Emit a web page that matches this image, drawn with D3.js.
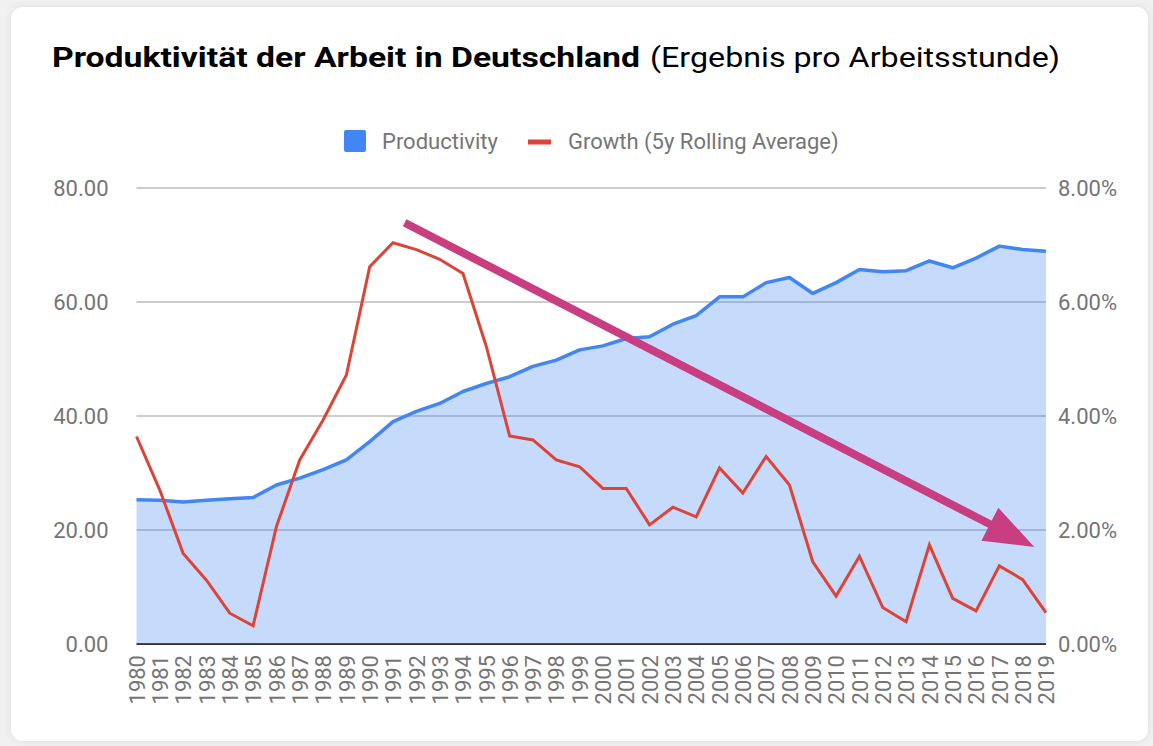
<!DOCTYPE html>
<html>
<head>
<meta charset="utf-8">
<script src="https://cdn.jsdelivr.net/npm/d3@7"></script>
<style>
  body { margin: 0; background: #f1f1f1; }
  svg { display: block; }
  .tick text { fill: #757575; font-family: Roboto, sans-serif; }
</style>
</head>
<body>
<div id="chart"></div>
<script>
// chart data
let years = d3.range(1980, 2020);
let productivity = [
    25.3, 25.2, 24.9, 25.2, 25.5, 25.7, 27.9, 29.1, 30.6, 32.3,
    35.5, 39.0, 40.8, 42.2, 44.3, 45.7, 46.9, 48.7, 49.8, 51.6,
    52.3, 53.6, 53.9, 56.1, 57.6, 60.9, 60.9, 63.4, 64.3, 61.5,
    63.4, 65.7, 65.3, 65.5, 67.2, 66.0, 67.7, 69.8, 69.2, 68.9
];
let growth = [
    3.64, 2.70, 1.59, 1.12, 0.54, 0.32, 2.06, 3.23, 3.93, 4.72,
    6.62, 7.04, 6.92, 6.75, 6.50, 5.22, 3.65, 3.58, 3.23, 3.11,
    2.73, 2.73, 2.09, 2.40, 2.23, 3.09, 2.65, 3.29, 2.79, 1.44,
    0.84, 1.54, 0.64, 0.39, 1.74, 0.80, 0.58, 1.37, 1.13, 0.55
];
let leftTicks = [0, 20, 40, 60, 80];
let rightTicks = [0, 2, 4, 6, 8];
let seriesNames = ['Productivity', 'Growth (5y Rolling Average)'];
// trend arrow drawn over the chart (year, left-axis value)
let arrowFrom = [1991.5, 73.9];
let arrowTo = [2018.5, 17.0];

let svgWidth = 1153;
let svgHeight = 746;

let margin = { top: 188, left: 136.5, right: 107, bottom: 102 };
let width = svgWidth - margin.left - margin.right;
let height = svgHeight - margin.top - margin.bottom;

let svg = d3.select('#chart')
    .append('svg')
    .attr('width', svgWidth)
    .attr('height', svgHeight);

// card with soft shadow
let defs = svg.append('defs');
let shadow = defs.append('filter').attr('id', 'shadow')
    .attr('x', '-5%').attr('y', '-5%').attr('width', '110%').attr('height', '110%');
shadow.append('feDropShadow')
    .attr('dx', 0).attr('dy', 0).attr('stdDeviation', 4)
    .attr('flood-color', '#000').attr('flood-opacity', 0.08);
svg.append('rect')
    .attr('x', 11).attr('y', 7)
    .attr('width', 1137).attr('height', 734)
    .attr('rx', 12)
    .attr('fill', '#ffffff')
    .attr('filter', 'url(#shadow)');

// title
svg.append('text')
    .attr('x', 52).attr('y', 67)
    .attr('font-family', 'Roboto, sans-serif')
    .attr('font-weight', 700)
    .attr('font-size', 27)
    .attr('fill', '#000')
    .attr('textLength', 588)
    .attr('lengthAdjust', 'spacingAndGlyphs')
    .text('Produktivität der Arbeit in Deutschland');
svg.append('text')
    .attr('x', 650).attr('y', 67)
    .attr('font-family', 'Roboto, sans-serif')
    .attr('font-weight', 400)
    .attr('font-size', 27)
    .attr('fill', '#000')
    .attr('textLength', 410)
    .attr('lengthAdjust', 'spacingAndGlyphs')
    .text('(Ergebnis pro Arbeitsstunde)');

// legend
let legend = svg.append('g').attr('font-family', 'Roboto, sans-serif').attr('font-size', 22).attr('fill', '#757575');
legend.append('rect')
    .attr('x', 344).attr('y', 130).attr('width', 22).attr('height', 22).attr('rx', 2)
    .attr('fill', '#4285f4');
legend.append('text').attr('x', 382).attr('y', 149).text(seriesNames[0]);
legend.append('rect')
    .attr('x', 528).attr('y', 139.5).attr('width', 23).attr('height', 5)
    .attr('fill', '#db4437');
legend.append('text').attr('x', 568).attr('y', 149).text(seriesNames[1]);

let chartGroup = svg.append('g')
    .attr('transform', `translate(${margin.left}, ${margin.top})`);

// scales
let xScale = d3.scaleLinear().domain([1980, 2019]).range([0, width]);
let yLeft = d3.scaleLinear().domain([0, 80]).range([height, 0]);
let yRight = d3.scaleLinear().domain([0, 8]).range([height, 0]);

// gridlines
chartGroup.append('g')
    .selectAll('line')
    .data(leftTicks.filter(d => d > 0))
    .enter()
    .append('line')
    .attr('x1', 0).attr('x2', width)
    .attr('y1', d => yLeft(d)).attr('y2', d => yLeft(d))
    .attr('stroke', '#cccccc')
    .attr('stroke-width', 2);
chartGroup.append('line')
    .attr('x1', 0).attr('x2', width)
    .attr('y1', height).attr('y2', height)
    .attr('stroke', '#333333')
    .attr('stroke-width', 2);

// productivity area + line
let area = d3.area()
    .x((d, i) => xScale(years[i]))
    .y0(height)
    .y1(d => yLeft(d));
chartGroup.append('path')
    .datum(productivity)
    .attr('d', area)
    .attr('fill', '#4285f4')
    .attr('fill-opacity', 0.3);
let prodLine = d3.line()
    .x((d, i) => xScale(years[i]))
    .y(d => yLeft(d));
chartGroup.append('path')
    .datum(productivity)
    .attr('d', prodLine)
    .attr('fill', 'none')
    .attr('stroke', '#4285f4')
    .attr('stroke-width', 3.5)
    .attr('stroke-linejoin', 'round');

// growth line
let growthLine = d3.line()
    .x((d, i) => xScale(years[i]))
    .y(d => yRight(d));
chartGroup.append('path')
    .datum(growth)
    .attr('d', growthLine)
    .attr('fill', 'none')
    .attr('stroke', '#db4437')
    .attr('stroke-width', 3);

// axes
let leftAxis = d3.axisLeft(yLeft).tickValues(leftTicks).tickFormat(d3.format('.2f')).tickSize(0).tickPadding(28);
let rightAxis = d3.axisRight(yRight).tickValues(rightTicks).tickFormat(d => d3.format('.2f')(d) + '%').tickSize(0).tickPadding(12);
let bottomAxis = d3.axisBottom(xScale).tickValues(years).tickFormat(d3.format('d')).tickSize(0);

chartGroup.append('g').call(leftAxis)
    .call(g => g.select('.domain').remove())
    .selectAll('text').attr('font-size', 22).attr('dy', '0.36em');
chartGroup.append('g')
    .attr('transform', `translate(${width}, 0)`)
    .call(rightAxis)
    .call(g => g.select('.domain').remove())
    .selectAll('text').attr('font-size', 22).attr('dy', '0.36em');
chartGroup.append('g')
    .attr('transform', `translate(0, ${height})`)
    .call(bottomAxis)
    .call(g => g.select('.domain').remove())
    .selectAll('text')
    .attr('font-size', 22)
    .attr('transform', 'rotate(-90)')
    .attr('text-anchor', 'end')
    .attr('x', -11)
    .attr('y', 0)
    .attr('dy', '0.35em');

// trend arrow
let ax0 = xScale(arrowFrom[0]), ay0 = yLeft(arrowFrom[1]);
let ax1 = xScale(arrowTo[0]), ay1 = yLeft(arrowTo[1]);
let ang = Math.atan2(ay1 - ay0, ax1 - ax0);
let headLen = 50, headHalf = 18.5;
let bx = ax1 - headLen * Math.cos(ang), by = ay1 - headLen * Math.sin(ang);
chartGroup.append('line')
    .attr('x1', ax0).attr('y1', ay0)
    .attr('x2', bx + 4 * Math.cos(ang)).attr('y2', by + 4 * Math.sin(ang))
    .attr('stroke', '#c83e80')
    .attr('stroke-width', 8);
chartGroup.append('polygon')
    .attr('points', [
        [ax1, ay1],
        [bx - headHalf * Math.sin(ang), by + headHalf * Math.cos(ang)],
        [bx + headHalf * Math.sin(ang), by - headHalf * Math.cos(ang)]
    ].map(p => p.join(',')).join(' '))
    .attr('fill', '#c83e80');
</script>
</body>
</html>
